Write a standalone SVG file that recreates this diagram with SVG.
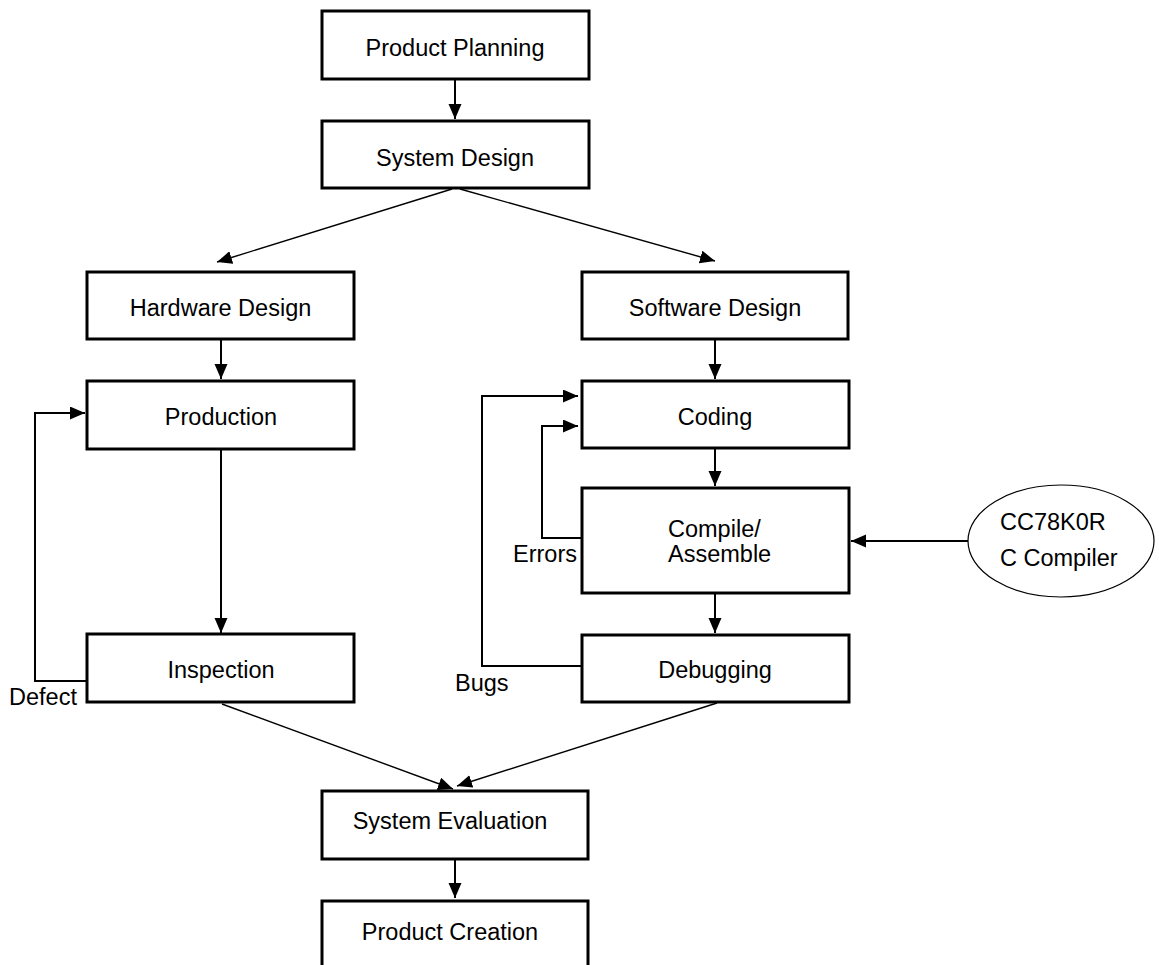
<svg xmlns="http://www.w3.org/2000/svg" width="1159" height="965" viewBox="0 0 1159 965">
  <style>
    .box { fill: #ffffff; stroke: #000000; stroke-width: 3; }
    .lbl { font-family: "Liberation Sans", Arial, sans-serif; font-size: 23.5px; fill: #000000; }
    .mid { text-anchor: middle; }
    .wire { fill: none; stroke: #000000; stroke-width: 2; }
    .thin { fill: none; stroke: #000000; stroke-width: 1.4; }
  </style>
  <defs>
    <marker id="head" markerUnits="userSpaceOnUse" markerWidth="16" markerHeight="14" refX="15" refY="6.5" orient="auto">
      <path d="M0,0 L15,6.5 L0,13 Z" fill="#000000"/>
    </marker>
  </defs>
  <rect width="1159" height="965" fill="#ffffff"/>

  <!-- connectors -->
  <g id="connectors">
    <path class="wire" d="M455,80 V119" marker-end="url(#head)"/>
    <path class="thin" d="M452,189 L217,262" marker-end="url(#head)"/>
    <path class="thin" d="M460,189 L715,261" marker-end="url(#head)"/>
    <path class="wire" d="M221,340 V379" marker-end="url(#head)"/>
    <path class="wire" d="M715,340 V379" marker-end="url(#head)"/>
    <path class="wire" d="M221,450 V633" marker-end="url(#head)"/>
    <path class="wire" d="M87,681 H35 V413 H85" marker-end="url(#head)"/>
    <path class="wire" d="M715,449 V486" marker-end="url(#head)"/>
    <path class="wire" d="M715,594 V633" marker-end="url(#head)"/>
    <path class="wire" d="M581,538 H542 V426 H578" marker-end="url(#head)"/>
    <path class="wire" d="M581,666 H482 V396 H578" marker-end="url(#head)"/>
    <path class="wire" d="M969,541 H851" marker-end="url(#head)"/>
    <path class="thin" d="M222,704 L453,789" marker-end="url(#head)"/>
    <path class="thin" d="M717,703 L457,786" marker-end="url(#head)"/>
    <path class="wire" d="M455,860 V898" marker-end="url(#head)"/>
  </g>

  <g id="product-planning">
    <rect class="box" x="322" y="11" width="267" height="68"/>
    <text class="lbl mid" x="455" y="56">Product Planning</text>
  </g>
  <g id="system-design">
    <rect class="box" x="322" y="121" width="267" height="67"/>
    <text class="lbl mid" x="455" y="166">System Design</text>
  </g>
  <g id="hardware-design">
    <rect class="box" x="87" y="272" width="267" height="67"/>
    <text class="lbl mid" x="220.5" y="316">Hardware Design</text>
  </g>
  <g id="software-design">
    <rect class="box" x="582" y="272" width="266" height="67"/>
    <text class="lbl mid" x="715" y="316">Software Design</text>
  </g>
  <g id="production">
    <rect class="box" x="87" y="381" width="267" height="68"/>
    <text class="lbl mid" x="221" y="425">Production</text>
  </g>
  <g id="inspection">
    <rect class="box" x="87" y="634" width="267" height="68"/>
    <text class="lbl mid" x="221" y="678">Inspection</text>
  </g>
  <g id="defect-label">
    <text class="lbl" x="9" y="705">Defect</text>
  </g>
  <g id="coding">
    <rect class="box" x="582" y="381" width="267" height="67"/>
    <text class="lbl mid" x="715" y="425">Coding</text>
  </g>
  <g id="compile-assemble">
    <rect class="box" x="582" y="488" width="267" height="105"/>
    <text class="lbl" x="668" y="537">Compile/</text>
    <text class="lbl" x="668" y="562">Assemble</text>
  </g>
  <g id="errors-label">
    <text class="lbl" x="513" y="562">Errors</text>
  </g>
  <g id="debugging">
    <rect class="box" x="582" y="635" width="267" height="67"/>
    <text class="lbl mid" x="715" y="678">Debugging</text>
  </g>
  <g id="bugs-label">
    <text class="lbl" x="455" y="691">Bugs</text>
  </g>
  <g id="compiler">
    <ellipse cx="1061" cy="541" rx="93" ry="56" fill="#ffffff" stroke="#000000" stroke-width="1.2"/>
    <text class="lbl" x="1000" y="530">CC78K0R</text>
    <text class="lbl" x="1000" y="566">C Compiler</text>
  </g>
  <g id="system-evaluation">
    <rect class="box" x="322" y="791" width="266" height="68"/>
    <text class="lbl mid" x="450" y="829">System Evaluation</text>
  </g>
  <g id="product-creation">
    <rect class="box" x="322" y="901" width="266" height="80"/>
    <text class="lbl mid" x="450" y="940">Product Creation</text>
  </g>
</svg>
